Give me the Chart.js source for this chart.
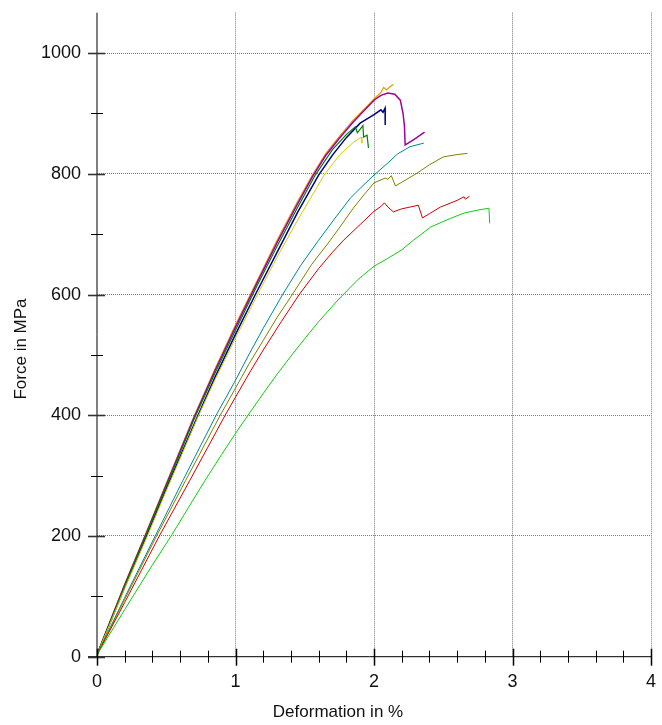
<!DOCTYPE html>
<html>
<head>
<meta charset="utf-8">
<script src="https://cdn.jsdelivr.net/npm/chart.js@4"></script>
<style>
  html, body { margin: 0; padding: 0; background: #fff; }
  canvas { display: block; }
</style>
</head>
<body>
<canvas id="chart" width="662" height="725"></canvas>
<script>
// curves: [deformation %, force MPa]
const orange = [[0,3],[0.1,62],[0.2,120],[0.35,203],[0.5,287],[0.7,398],[0.85,476],[1.0,550],[1.15,620],[1.3,690],[1.45,755],[1.555,798],[1.65,833],[1.75,862],[1.85,889],[1.95,912],[2.0,924],[2.05,935],[2.07,943],[2.09,939],[2.12,945],[2.14,948]];
const purple = [[0,3],[0.1,61],[0.2,119],[0.35,201],[0.5,285],[0.7,396],[0.85,473],[1.0,546],[1.15,617],[1.3,686],[1.45,751],[1.56,797],[1.65,830],[1.75,859],[1.85,886],[1.95,910],[2.0,922],[2.05,930],[2.1,934],[2.15,932],[2.19,922],[2.21,900],[2.22,878],[2.225,848],[2.29,857],[2.365,869]];
const navy = [[0,3],[0.1,59],[0.2,115],[0.35,196],[0.5,278],[0.72,395],[0.85,462],[1.0,534],[1.15,603],[1.3,670],[1.45,737],[1.6,798],[1.7,831],[1.8,860],[1.9,884],[2.0,898],[2.05,906],[2.065,902],[2.08,909],[2.081,881]];
const darkGreen = [[0,3],[0.1,60],[0.2,117],[0.35,199],[0.5,282],[0.7,393],[0.85,469],[1.0,541],[1.15,612],[1.3,680],[1.45,745],[1.576,798],[1.7,840],[1.8,865],[1.865,878],[1.88,868],[1.92,880],[1.925,861],[1.95,864],[1.96,843]];
const yellow = [[0,3],[0.1,58],[0.2,113],[0.36,198],[0.5,275],[0.73,398],[0.85,458],[1.0,528],[1.15,596],[1.3,662],[1.45,724],[1.64,798],[1.75,831],[1.85,852],[1.91,861],[1.912,851]];
const teal = [[0,3],[0.2,98],[0.42,200],[0.62,292],[0.86,400],[1.0,458],[1.1,502],[1.2,544],[1.34,600],[1.47,648],[1.6,690],[1.73,730],[1.83,760],[1.865,768],[1.9,776],[2.0,798],[2.1,818],[2.17,833],[2.26,845],[2.36,851]];
const olive = [[0,3],[0.2,95],[0.43,200],[0.64,292],[0.89,400],[1.0,445],[1.1,486],[1.2,524],[1.3,562],[1.41,600],[1.55,650],[1.685,690],[1.77,717],[1.85,743],[1.93,766],[2.0,785],[2.08,793],[2.1,791],[2.125,797],[2.155,780],[2.2,786],[2.31,801],[2.4,815],[2.5,828],[2.6,832],[2.675,834]];
const red = [[0,3],[0.2,90],[0.45,200],[0.67,292],[0.8,347],[0.925,400],[1.0,430],[1.1,470],[1.2,508],[1.33,555],[1.46,600],[1.6,643],[1.7,670],[1.78,690],[1.9,716],[2.0,738],[2.05,746],[2.075,752],[2.1,745],[2.14,737],[2.2,742],[2.32,748],[2.35,727],[2.4,734],[2.48,745],[2.6,756],[2.65,762],[2.66,758],[2.69,763]];
const green = [[0,3],[0.2,78],[0.4,152],[0.535,200],[0.66,247],[0.78,292],[0.9,335],[1.0,370],[1.09,400],[1.2,436],[1.3,468],[1.4,498],[1.5,527],[1.6,555],[1.74,591],[1.88,624],[2.0,647],[2.1,660],[2.2,674],[2.285,690],[2.41,712],[2.55,726],[2.65,735],[2.75,740],[2.83,743],[2.835,718]];

const xTicks = [0, 1, 2, 3, 4];
const yTicks = [0, 200, 400, 600, 800, 1000];
const xTitle = 'Deformation in %';
const yTitle = 'Force in MPa';

const series = [
    { data: green, color: '#10cc10', width: 1 },
    { data: red, color: '#d00000', width: 1 },
    { data: olive, color: '#808000', width: 1 },
    { data: teal, color: '#008890', width: 1 },
    { data: yellow, color: '#d4cc00', width: 1 },
    { data: darkGreen, color: '#008000', width: 1.2 },
    { data: navy, color: '#000090', width: 1.5 },
    { data: purple, color: '#a000a0', width: 1.5 },
    { data: orange, color: '#dc9a10', width: 1.2 }
];

const FONT = '"Liberation Sans", Arial, sans-serif';
const GRID = '#7a7a7a';
const isInt = v => Math.abs(v - Math.round(v)) < 1e-6;

// axis lines, crossing ticks, labels and titles
const axesPlugin = {
    id: 'axesPlugin',
    afterDraw(chart) {
        const ctx = chart.ctx;
        const xs = chart.scales.x, ys = chart.scales.y;
        const x0 = xs.getPixelForValue(0), y0 = ys.getPixelForValue(0);
        ctx.save();
        ctx.strokeStyle = '#000';
        ctx.lineWidth = 1;
        ctx.beginPath();
        ctx.moveTo(x0, chart.chartArea.top);
        ctx.lineTo(x0, y0);
        ctx.moveTo(x0 - 9, y0);
        ctx.lineTo(xs.getPixelForValue(4), y0);
        ctx.stroke();

        // y ticks every 100
        for (let v = 0; v <= 1000; v += 100) {
            const p = Math.round(ys.getPixelForValue(v)) + 0.5;
            const major = v % 200 === 0;
            ctx.strokeStyle = major ? '#333' : '#000';
            ctx.lineWidth = major ? 1.6 : 1;
            ctx.beginPath();
            ctx.moveTo(major ? x0 - 9 : x0 - 6, p);
            ctx.lineTo(major ? x0 + 8 : x0 + 6, p);
            ctx.stroke();
        }
        // x ticks every 0.2
        for (let i = 0; i <= 20; i++) {
            const v = i * 0.2;
            const p = Math.round(xs.getPixelForValue(v)) + 0.5;
            const major = i % 5 === 0;
            ctx.strokeStyle = '#000';
            ctx.lineWidth = major ? 1.5 : 1;
            ctx.beginPath();
            ctx.moveTo(p, major ? y0 - 8 : y0 - 6);
            ctx.lineTo(p, major ? y0 + 9 : y0 + 6);
            ctx.stroke();
        }

        ctx.fillStyle = '#111';
        ctx.font = '18px ' + FONT;
        ctx.textAlign = 'right';
        ctx.textBaseline = 'middle';
        yTicks.forEach(v => ctx.fillText(String(v), x0 - 16, ys.getPixelForValue(v)));
        ctx.textAlign = 'center';
        ctx.textBaseline = 'middle';
        xTicks.forEach(v => ctx.fillText(String(v), xs.getPixelForValue(v), y0 + 25));

        ctx.font = '17px ' + FONT;
        ctx.fillText(xTitle, 338, 712);
        ctx.translate(21, 349);
        ctx.rotate(-Math.PI / 2);
        ctx.fillText(yTitle, 0, 0);
        ctx.restore();
    }
};

new Chart(document.getElementById('chart'), {
    type: 'scatter',
    data: {
        datasets: series.map(s => ({
            data: s.data.map(p => ({ x: p[0], y: p[1] })),
            showLine: true,
            borderColor: s.color,
            backgroundColor: s.color,
            borderWidth: s.width,
            pointRadius: 0,
            tension: 0
        }))
    },
    options: {
        responsive: false,
        animation: false,
        devicePixelRatio: 1,
        layout: { padding: { left: 97, right: 11, top: 12.7, bottom: 68.3 } },
        plugins: { legend: { display: false }, tooltip: { enabled: false } },
        scales: {
            x: {
                type: 'linear', min: 0, max: 4,
                border: { display: false, dash: [1, 1] },
                ticks: { display: false, stepSize: 0.2 },
                grid: {
                    drawTicks: false,
                    color: c => (c.tick && isInt(c.tick.value) && c.tick.value > 0) ? GRID : 'rgba(0,0,0,0)'
                }
            },
            y: {
                type: 'linear', min: 0, max: 1067,
                border: { display: false, dash: [1, 1] },
                ticks: { display: false, stepSize: 100 },
                grid: {
                    drawTicks: false,
                    color: c => (c.tick && c.tick.value > 0 && c.tick.value % 200 === 0) ? GRID : 'rgba(0,0,0,0)'
                }
            }
        }
    },
    plugins: [axesPlugin]
});
</script>
</body>
</html>
